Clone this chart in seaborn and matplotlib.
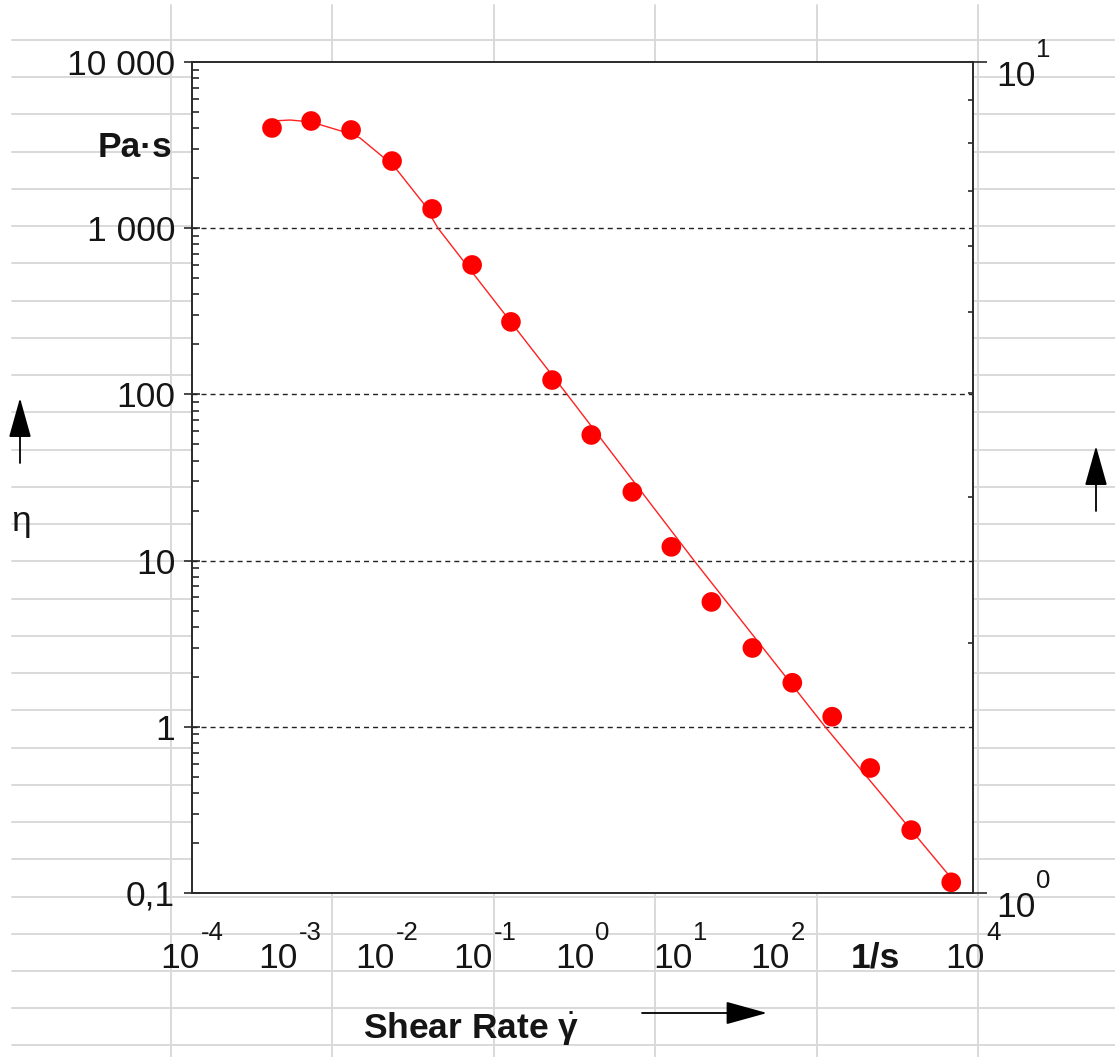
import matplotlib
matplotlib.use("Agg")
import matplotlib.pyplot as plt
import pandas as pd
import seaborn as sns
from matplotlib.lines import Line2D
from matplotlib.ticker import FixedLocator, FixedFormatter, NullFormatter, LogLocator

sns.set_style("white")
plt.rcParams['font.family'] = ['Liberation Sans', 'DejaVu Sans']
plt.rcParams['mathtext.fontset'] = 'custom'
plt.rcParams['mathtext.rm'] = 'Liberation Sans'
plt.rcParams['mathtext.it'] = 'Liberation Sans:italic'
plt.rcParams['mathtext.bf'] = 'Liberation Sans:bold'

shear_rate = [6.6e-4, 1.66e-3, 4.26e-3, 0.0112, 0.0288, 0.074, 0.185, 0.488, 1.23,
              3.24, 8.13, 20.9, 55.0, 141, 361, 885, 2328, 5984]
viscosity = [4010, 4416, 3899, 2535, 1306, 601, 273, 122, 57.0,
             25.9, 12.1, 5.64, 2.98, 1.84, 1.15, 0.565, 0.239, 0.116]

# fitted curve
fit_rate = [6.61e-4, 1.01e-3, 1.66e-3, 4.26e-3, 5.26e-3, 9.06e-3, 0.0126, 0.0233,
            0.0331, 0.695, 13.9, 306, 5984]
fit_visc = [4416, 4477, 4355, 3690, 3490, 2680, 2239, 1419,
            1000, 100, 10, 1, 0.123]

x_ticks = [1e-4, 1e-3, 1e-2, 1e-1, 1e0, 1e1, 1e2, 1e3, 1e4]
x_exponents = ["-4", "-3", "-2", "-1", "0", "1", "2", None, "4"]
x_unit = "1/s"
y_ticks = [0.1, 1, 10, 100, 1000, 10000]
y_labels = ["0,1", "1", "10", "100", "1 000", "10 000"]
y_grid = [1, 10, 100, 1000]
right_ticks = [1, 10]
right_exponents = ["0", "1"]

W, H = 1115, 1057
FS = 25.5
FS_SUP = 18.5
TXT = "#151515"
fig = plt.figure(figsize=(W / 100, H / 100), dpi=100)
fig.patch.set_facecolor("white")

# spreadsheet cell lines behind the chart
for k in range(28):
    yy = 40 + 37.24 * k
    fig.add_artist(Line2D([12 / W, 1], [1 - yy / H] * 2, transform=fig.transFigure,
                          color="#d9d9d9", lw=1.4, zorder=-5))
for k in range(6):
    xx = 171 + 161.4 * k
    fig.add_artist(Line2D([xx / W] * 2, [0, 1 - 5 / H], transform=fig.transFigure,
                          color="#d9d9d9", lw=1.4, zorder=-5))

ax = fig.add_axes([192 / W, (H - 893) / H, (973 - 192) / W, (893 - 62) / H])
ax.set_facecolor("white")
ax.set_xscale("log")
ax.set_yscale("log")

for g in y_grid:
    ax.axhline(g, color="#222222", lw=1.0, ls=(0, (3.6, 2.9)), zorder=1)

fit = pd.DataFrame({"rate": fit_rate, "eta": fit_visc})
pts = pd.DataFrame({"rate": shear_rate, "eta": viscosity})
sns.lineplot(data=fit, x="rate", y="eta", ax=ax, color="#ff2020", lw=1.0,
             sort=False, estimator=None, zorder=2)
sns.scatterplot(data=pts, x="rate", y="eta", ax=ax, color="#ff0000", s=200,
                edgecolor="none", zorder=3)

ax.set_xlim(1e-4, 1e4)
ax.set_ylim(0.1, 1e4)
ax.set_xlabel("")
ax.set_ylabel("")

axis_col = "#2a2a2a"
for sp in ax.spines.values():
    sp.set_color(axis_col)
    sp.set_linewidth(1.2)

ax.xaxis.set_major_locator(FixedLocator(x_ticks))
ax.xaxis.set_major_formatter(NullFormatter())
ax.xaxis.set_minor_locator(FixedLocator([5 * v for v in x_ticks[:-1]]))
ax.xaxis.set_minor_formatter(NullFormatter())
ax.yaxis.set_major_locator(FixedLocator(y_ticks))
ax.yaxis.set_major_formatter(FixedFormatter(y_labels))
ax.yaxis.set_minor_locator(LogLocator(base=10, subs=range(2, 10), numticks=20))
ax.yaxis.set_minor_formatter(NullFormatter())

ax.tick_params(axis="x", which="major", direction="inout", length=18.7, width=1.2,
               color=axis_col, top=False)
ax.tick_params(axis="x", which="minor", direction="in", length=3, width=1.2,
               color=axis_col, top=False)
ax.tick_params(axis="y", which="major", direction="inout", length=12.2, width=1.2,
               color=axis_col, pad=6, labelsize=FS, labelcolor=TXT, right=False)
ax.tick_params(axis="y", which="minor", direction="in", length=5, width=1.2,
               color=axis_col, right=False)

ax2 = ax.twinx()
ax2.set_yscale("log")
ax2.set_ylim(1, 10)
ax2.yaxis.set_major_locator(FixedLocator(right_ticks))
ax2.yaxis.set_major_formatter(NullFormatter())
ax2.yaxis.set_minor_locator(LogLocator(base=10, subs=range(2, 10), numticks=20))
ax2.yaxis.set_minor_formatter(NullFormatter())
ax2.tick_params(axis="y", which="major", direction="out", length=10, width=1.2, color=axis_col)
ax2.tick_params(axis="y", which="minor", direction="in", length=3.6, width=1.2, color=axis_col)
for sp in ax2.spines.values():
    sp.set_color(axis_col)
    sp.set_linewidth(1.2)

renderer = fig.canvas.get_renderer()


def power_label(axis, xy, coords, exp, dx, dy_base, dy_exp, centered):
    base = axis.annotate("10", xy=xy, xycoords=coords, xytext=(0, dy_base),
                         textcoords="offset pixels", fontsize=FS, ha="left",
                         va="baseline", color=TXT, annotation_clip=False)
    sup = axis.annotate(exp, xy=xy, xycoords=coords, xytext=(0, dy_exp),
                        textcoords="offset pixels", fontsize=FS_SUP, ha="left",
                        va="baseline", color=TXT, annotation_clip=False)
    wb = base.get_window_extent(renderer).width
    ws = sup.get_window_extent(renderer).width
    gap = 1
    start = dx - (wb + gap + ws) / 2 if centered else dx
    base.xyann = (start, dy_base)
    sup.xyann = (start + wb + gap, dy_exp)


xt = ax.get_xaxis_transform()
for v, e in zip(x_ticks, x_exponents):
    if e is None:
        ax.annotate(x_unit, xy=(v, 0), xycoords=xt, xytext=(0, -75),
                    textcoords="offset pixels", ha="center", va="baseline",
                    fontsize=FS, fontweight="bold", color=TXT,
                    annotation_clip=False)
    else:
        power_label(ax, (v, 0), xt, e, 0, -75, -47, True)

yt2 = ax2.get_yaxis_transform()
for v, e in zip(right_ticks, right_exponents):
    power_label(ax2, (1, v), yt2, e, 23, -24, 5, False)

# axis titles and arrows
fig.text(172 / W, 1 - 157 / H, "Pa·s", ha="right", va="baseline",
         fontsize=FS, fontweight="bold", color=TXT)
fig.text(31 / W, 1 - 531 / H, "η", ha="right", va="baseline", fontsize=FS,
         color=TXT)
fig.text(363 / W, 1 - 1039 / H, r"Shear Rate $\dot{\mathbf{\gamma}}$", ha="left",
         va="baseline", fontsize=FS, fontweight="bold", color=TXT)

arrow_v = dict(arrowstyle="-|>,head_length=2.5,head_width=0.7", color="black",
               lw=1.3, shrinkA=0, shrinkB=0, mutation_scale=10)
arrow_h = dict(arrowstyle="-|>,head_length=2.6,head_width=0.72", color="black",
               lw=1.3, shrinkA=0, shrinkB=0, mutation_scale=10)
ax.annotate("", xy=(20, H - 398), xycoords="figure pixels",
            xytext=(20, H - 463), textcoords="figure pixels", arrowprops=arrow_v)
ax.annotate("", xy=(1096, H - 446), xycoords="figure pixels",
            xytext=(1096, H - 511), textcoords="figure pixels", arrowprops=arrow_v)
ax.annotate("", xy=(767, H - 1013), xycoords="figure pixels",
            xytext=(642, H - 1013), textcoords="figure pixels", arrowprops=arrow_h)

fig.savefig("out.png", dpi=100)
